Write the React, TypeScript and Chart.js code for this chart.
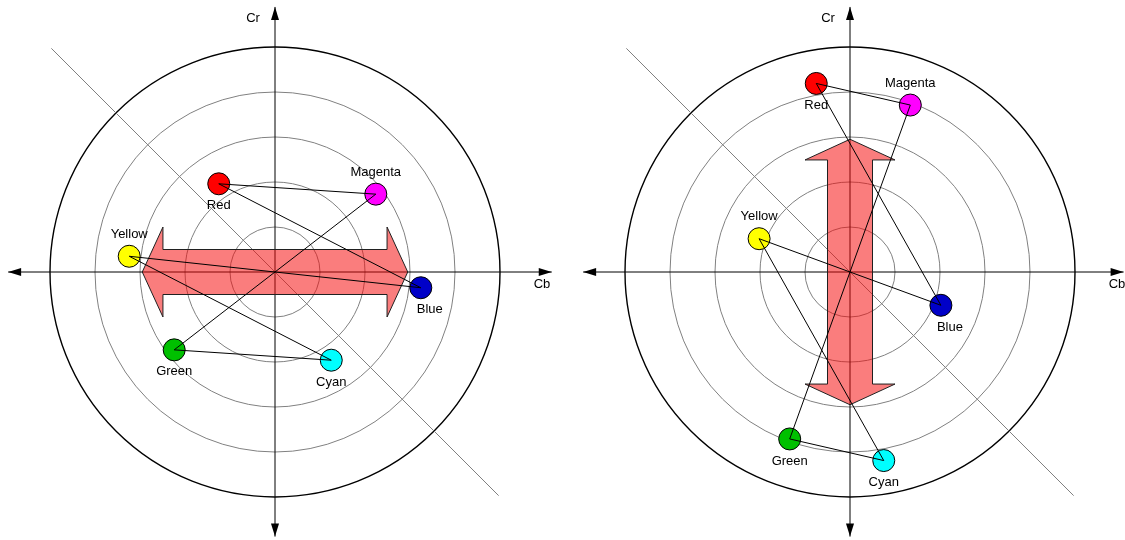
import React, { useEffect, useRef } from "react";
import { Chart, registerables } from "chart.js";

Chart.register(...registerables);

// ---- data ----
const colorNames = ["Red", "Magenta", "Blue", "Cyan", "Green", "Yellow"];
const markerColors = ["#FF0000", "#FF00FF", "#0000C8", "#00FFFF", "#00C000", "#FFFF00"];
// left panel (Cb, Cr) in ring units
const leftCb = [-1.25, 2.24, 3.24, 1.25, -2.24, -3.24];
const leftCr = [1.96, 1.73, -0.35, -1.96, -1.73, 0.35];
// right panel (Cb, Cr) in ring units
const rightCb = [-0.75, 1.34, 2.02, 0.75, -1.34, -2.02];
const rightCr = [4.19, 3.71, -0.74, -4.19, -3.71, 0.74];
// closed path through the colours: Red→Magenta→Green→Cyan→Yellow→Blue→Red
const pathOrder = [0, 1, 4, 3, 5, 2, 0];
const ringRadii = [1, 2, 3, 4, 5];
const axisTitles = ["Cb", "Cr"];
const labelSides = ["below", "above", "below-right", "below", "below", "above"];

const FONT = '13px "Liberation Sans", Arial, sans-serif';
const UNIT = 45; // pixels per ring unit
const H = 540;

type PanelCfg = {
  left: number;
  width: number;
  cx: number; // centre within canvas (px)
  cy: number;
  cb: number[];
  cr: number[];
  vertical: boolean;
  axis: { xNeg: number; xPos: number; yPos: number; yNeg: number };
};

const panels: PanelCfg[] = [
  {
    left: 0, width: 560, cx: 275, cy: 272, cb: leftCb, cr: leftCr, vertical: false,
    axis: { xNeg: -5.93, xPos: 6.15, yPos: 5.89, yNeg: -5.88 },
  },
  {
    left: 560, width: 565, cx: 290, cy: 272, cb: rightCb, cr: rightCr, vertical: true,
    axis: { xNeg: -5.93, xPos: 6.08, yPos: 5.89, yNeg: -5.88 },
  },
];

const arrowSpec = { tip: 2.95, base: 2.49, head: 1.0, shaft: 0.5 };

function makeDecor(cfg: PanelCfg) {
  return {
    id: "decor",
    beforeDatasetsDraw(chart: any) {
      const ctx = chart.ctx as CanvasRenderingContext2D;
      const xs = chart.scales.x;
      const ys = chart.scales.y;
      const px = (v: number) => xs.getPixelForValue(v);
      const py = (v: number) => ys.getPixelForValue(v);
      const ox = px(0);
      const oy = py(0);
      ctx.save();
      // rings
      ringRadii.forEach((r, i) => {
        const rp = px(r) - ox;
        ctx.beginPath();
        ctx.arc(ox, oy, rp, 0, Math.PI * 2);
        const outer = i === ringRadii.length - 1;
        ctx.strokeStyle = outer ? "#000000" : "#808080";
        ctx.lineWidth = outer ? 1.4 : 1;
        ctx.stroke();
      });
      // diagonal
      const d = ringRadii[ringRadii.length - 1] - 0.03;
      ctx.beginPath();
      ctx.moveTo(px(-d), py(d));
      ctx.lineTo(px(d), py(-d));
      ctx.strokeStyle = "#808080";
      ctx.lineWidth = 1;
      ctx.stroke();
      // axes
      const a = cfg.axis;
      ctx.strokeStyle = "#000";
      ctx.fillStyle = "#000";
      ctx.lineWidth = 1;
      ctx.beginPath();
      ctx.moveTo(px(a.xNeg), oy);
      ctx.lineTo(px(a.xPos), oy);
      ctx.moveTo(ox, py(a.yPos));
      ctx.lineTo(ox, py(a.yNeg));
      ctx.stroke();
      const L = 13, W = 4;
      const head = (tx: number, ty: number, dx: number, dy: number) => {
        ctx.beginPath();
        ctx.moveTo(tx, ty);
        ctx.lineTo(tx - dx * L - dy * W, ty - dy * L - dx * W);
        ctx.lineTo(tx - dx * L + dy * W, ty - dy * L + dx * W);
        ctx.closePath();
        ctx.fill();
      };
      head(px(a.xPos), oy, 1, 0);
      head(px(a.xNeg), oy, -1, 0);
      head(ox, py(a.yPos), 0, -1);
      head(ox, py(a.yNeg), 0, 1);
      // big double arrow
      const s = arrowSpec;
      const pts: [number, number][] = [
        [s.tip, 0], [s.base, s.head], [s.base, s.shaft], [-s.base, s.shaft], [-s.base, s.head],
        [-s.tip, 0], [-s.base, -s.head], [-s.base, -s.shaft], [s.base, -s.shaft], [s.base, -s.head],
      ];
      ctx.beginPath();
      pts.forEach(([al, pe], i) => {
        const x = cfg.vertical ? pe : al;
        const y = cfg.vertical ? al : pe;
        if (i === 0) ctx.moveTo(px(x), py(y));
        else ctx.lineTo(px(x), py(y));
      });
      ctx.closePath();
      ctx.fillStyle = "rgba(245, 10, 10, 0.53)";
      ctx.fill();
      ctx.strokeStyle = "#202020";
      ctx.lineWidth = 1;
      ctx.stroke();
      ctx.restore();
    },
    afterDatasetsDraw(chart: any) {
      const ctx = chart.ctx as CanvasRenderingContext2D;
      const xs = chart.scales.x;
      const ys = chart.scales.y;
      const px = (v: number) => xs.getPixelForValue(v);
      const py = (v: number) => ys.getPixelForValue(v);
      const ox = px(0);
      const oy = py(0);
      ctx.save();
      ctx.font = FONT;
      ctx.fillStyle = "#000";
      ctx.textAlign = "center";
      ctx.textBaseline = "middle";
      colorNames.forEach((name, i) => {
        const x = px(cfg.cb[i]);
        const y = py(cfg.cr[i]);
        const side = labelSides[i];
        const dy = side === "above" ? -22 : 22;
        const dx = side === "below-right" ? 9 : 0;
        ctx.fillText(name, x + dx, y + dy);
      });
      ctx.fillText(axisTitles[0], ox + 267, oy + 12);
      ctx.fillText(axisTitles[1], ox - 22, 18);
      ctx.restore();
    },
  };
}

function Panel({ cfg }: { cfg: PanelCfg }) {
  const ref = useRef<HTMLCanvasElement>(null);
  useEffect(() => {
    const canvas = ref.current;
    if (!canvas) return;
    const points = cfg.cb.map((v, i) => ({ x: v, y: cfg.cr[i] }));
    const path = pathOrder.map((i) => points[i]);
    const chart = new Chart(canvas, {
      type: "scatter",
      data: {
        datasets: [
          {
            type: "line",
            data: path,
            borderColor: "#000",
            borderWidth: 1,
            pointRadius: 0,
            fill: false,
            tension: 0,
            order: 0,
            clip: false,
          } as any,
          {
            type: "scatter",
            data: points,
            pointRadius: 11,
            pointHoverRadius: 11,
            pointBackgroundColor: markerColors,
            pointBorderColor: "#000",
            pointBorderWidth: 1,
            order: 1,
            clip: false,
          } as any,
        ],
      },
      options: {
        responsive: false,
        animation: false,
        devicePixelRatio: 1,
        events: [],
        layout: { padding: 0, autoPadding: false },
        plugins: { legend: { display: false }, tooltip: { enabled: false }, title: { display: false } },
        scales: {
          x: {
            type: "linear",
            display: false,
            min: -cfg.cx / UNIT,
            max: (cfg.width - cfg.cx) / UNIT,
          },
          y: {
            type: "linear",
            display: false,
            min: -(H - cfg.cy) / UNIT,
            max: cfg.cy / UNIT,
          },
        },
      } as any,
      plugins: [makeDecor(cfg)],
    });
    return () => chart.destroy();
  }, [cfg]);
  return (
    <canvas
      ref={ref}
      width={cfg.width}
      height={H}
      style={{ position: "absolute", left: cfg.left, top: 0, width: cfg.width, height: H, display: "block" }}
    />
  );
}

export default function App() {
  return (
    <div style={{ position: "absolute", left: 0, top: 0, width: 1125, height: H, background: "#fff", overflow: "hidden" }}>
      {panels.map((p, i) => (
        <Panel key={i} cfg={p} />
      ))}
    </div>
  );
}
